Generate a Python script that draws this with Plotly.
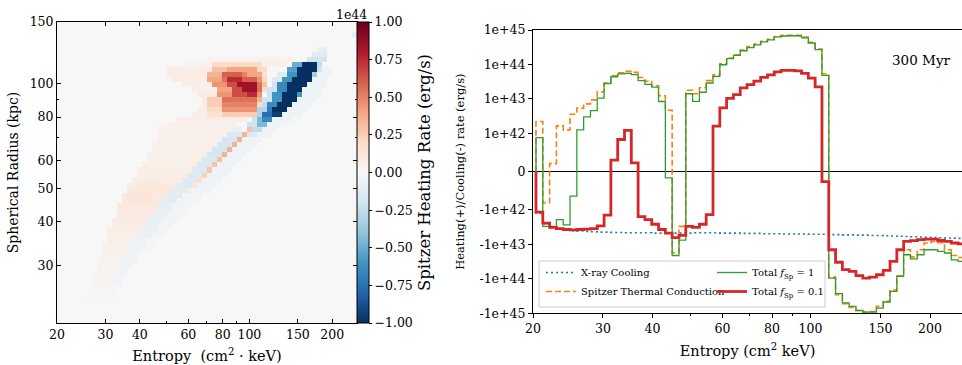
import numpy as np
import plotly.graph_objects as go

# ---------------- Left panel: Spitzer heating-rate map (values in 1e44 erg/s) ----------------
ent_min, ent_max = 20.0, 246.0      # entropy range of the map (cm^2 keV)
rad_min, rad_max = 20.5, 150.0      # radius range of the map (kpc)
n_ent, n_rad = 60, 60
# (row counted from the top, first column, last column, value in units of 1e44 erg/s)
heat_runs = [
    (2, 59, 59, -0.10),
    (5, 52, 53, -0.08),
    (6, 51, 53, -0.12),
    (7, 30, 46, 0.04), (7, 50, 53, -0.20),
    (8, 26, 30, 0.04), (8, 31, 40, 0.20), (8, 41, 45, 0.05), (8, 47, 48, -0.50), (8, 49, 51, -1.0), (8, 52, 52, -0.25),
    (9, 22, 30, 0.07), (9, 31, 33, 0.30), (9, 34, 39, 0.40), (9, 40, 41, 0.20), (9, 46, 47, -0.55), (9, 48, 51, -1.0),
    (9, 52, 52, -0.20), (9, 53, 54, -0.05),
    (10, 22, 29, 0.08), (10, 30, 32, 0.35), (10, 33, 36, 0.60), (10, 37, 37, 0.50), (10, 38, 40, 0.40), (10, 41, 41, 0.15),
    (10, 44, 45, -0.12), (10, 46, 47, -0.60), (10, 48, 50, -1.0), (10, 51, 51, -0.35), (10, 52, 54, -0.05),
    (11, 23, 29, 0.07), (11, 30, 32, 0.40), (11, 33, 33, 0.55), (11, 34, 36, 0.75), (11, 37, 39, 0.60), (11, 40, 40, 0.45),
    (11, 41, 41, 0.20), (11, 43, 44, -0.15), (11, 45, 46, -0.60), (11, 47, 50, -1.0), (11, 51, 53, -0.05),
    (12, 25, 30, 0.06), (12, 31, 33, 0.45), (12, 34, 35, 0.65), (12, 36, 39, 0.85), (12, 40, 40, 0.55), (12, 41, 41, 0.30),
    (12, 43, 43, -0.20), (12, 44, 45, -0.65), (12, 46, 49, -1.0), (12, 50, 53, -0.05),
    (13, 27, 31, 0.06), (13, 32, 34, 0.40), (13, 35, 36, 0.65), (13, 37, 39, 0.85), (13, 40, 40, 0.55), (13, 41, 41, 0.20),
    (13, 42, 43, -0.20), (13, 44, 45, -0.65), (13, 46, 48, -1.0), (13, 49, 52, -0.05),
    (14, 28, 31, 0.08), (14, 32, 34, 0.45), (14, 35, 37, 0.65), (14, 38, 39, 0.75), (14, 40, 40, 0.45),
    (14, 42, 42, -0.20), (14, 43, 44, -0.60), (14, 45, 47, -1.0), (14, 48, 48, -0.60), (14, 49, 52, -0.05),
    (15, 29, 29, 0.08), (15, 30, 32, 0.25), (15, 33, 39, 0.55), (15, 40, 40, 0.35),
    (15, 41, 42, -0.20), (15, 43, 44, -0.60), (15, 45, 47, -1.0), (15, 48, 51, -0.05),
    (16, 29, 29, 0.08), (16, 30, 32, 0.25), (16, 33, 39, 0.50), (16, 40, 40, 0.20),
    (16, 41, 41, -0.25), (16, 42, 43, -0.65), (16, 44, 46, -1.0), (16, 47, 50, -0.05),
    (17, 28, 29, 0.07), (17, 30, 32, 0.20), (17, 33, 39, 0.45),
    (17, 40, 41, -0.30), (17, 42, 42, -0.70), (17, 43, 45, -1.0), (17, 46, 49, -0.05),
    (18, 27, 29, 0.06), (18, 30, 32, 0.15), (18, 33, 39, 0.25),
    (18, 40, 40, -0.30), (18, 41, 42, -0.75), (18, 43, 44, -0.95), (18, 45, 48, -0.05),
    (19, 24, 37, 0.07), (19, 39, 39, -0.20), (19, 40, 40, -0.45), (19, 41, 42, -0.65), (19, 43, 46, -0.05),
    (20, 22, 35, 0.05), (20, 38, 39, -0.20), (20, 40, 41, -0.45), (20, 42, 45, -0.05),
    (21, 20, 34, 0.05), (21, 35, 36, -0.10), (21, 38, 38, 0.30), (21, 39, 40, -0.25), (21, 41, 43, -0.05),
    (22, 20, 33, 0.05), (22, 34, 36, -0.15), (22, 37, 37, 0.35), (22, 38, 39, -0.15), (22, 40, 42, -0.04),
    (23, 20, 32, 0.05), (23, 33, 35, -0.18), (23, 36, 36, 0.35), (23, 37, 40, -0.04),
    (24, 19, 31, 0.05), (24, 32, 34, -0.18), (24, 35, 35, 0.35), (24, 36, 39, -0.04),
    (25, 19, 30, 0.06), (25, 31, 33, -0.18), (25, 34, 34, 0.35), (25, 35, 38, -0.04),
    (26, 18, 29, 0.06), (26, 30, 32, -0.18), (26, 33, 33, 0.35), (26, 34, 37, -0.04),
    (27, 18, 28, 0.06), (27, 29, 31, -0.16), (27, 32, 32, 0.30), (27, 33, 36, -0.04),
    (28, 17, 27, 0.06), (28, 28, 30, -0.16), (28, 31, 31, 0.30), (28, 32, 35, -0.04),
    (29, 16, 26, 0.07), (29, 27, 29, -0.14), (29, 30, 30, 0.28), (29, 31, 34, -0.04),
    (30, 16, 25, 0.07), (30, 26, 28, -0.14), (30, 29, 29, 0.24), (30, 30, 33, -0.04),
    (31, 15, 24, 0.08), (31, 25, 27, -0.13), (31, 28, 28, 0.18), (31, 29, 32, -0.04),
    (32, 14, 15, 0.08), (32, 16, 20, 0.11), (32, 21, 23, 0.09), (32, 24, 26, -0.13), (32, 27, 27, 0.12), (32, 28, 31, -0.04),
    (33, 14, 22, 0.11), (33, 23, 25, -0.11), (33, 26, 26, 0.08), (33, 27, 30, -0.03),
    (34, 13, 13, 0.10), (34, 14, 18, 0.13), (34, 19, 21, 0.10), (34, 22, 24, -0.11), (34, 25, 28, -0.03),
    (35, 13, 13, 0.10), (35, 14, 18, 0.13), (35, 19, 20, 0.10), (35, 21, 23, -0.11), (35, 24, 27, -0.03),
    (36, 12, 19, 0.11), (36, 20, 22, -0.10), (36, 23, 26, -0.03),
    (37, 12, 19, 0.09), (37, 20, 22, -0.09), (37, 23, 25, -0.03),
    (38, 12, 18, 0.09), (38, 19, 21, -0.09), (38, 22, 24, -0.03),
    (39, 11, 17, 0.08), (39, 18, 20, -0.08), (39, 21, 23, -0.03),
    (40, 11, 16, 0.07), (40, 17, 19, -0.08), (40, 20, 22, -0.03),
    (41, 10, 16, 0.07), (41, 17, 19, -0.07), (41, 20, 21, -0.03),
    (42, 10, 15, 0.06), (42, 16, 18, -0.07), (42, 19, 20, -0.03),
    (43, 10, 14, 0.06), (43, 15, 17, -0.06), (43, 18, 19, -0.02),
    (44, 9, 13, 0.05), (44, 14, 17, -0.06), (44, 18, 19, -0.02),
    (45, 9, 13, 0.05), (45, 14, 16, -0.05), (45, 17, 18, -0.02),
    (46, 9, 12, 0.05), (46, 13, 15, -0.05),
    (47, 8, 12, 0.04), (47, 13, 15, -0.04),
    (48, 8, 11, 0.04), (48, 12, 14, -0.04),
    (49, 8, 11, 0.03), (49, 12, 13, -0.04),
    (50, 7, 10, 0.03), (50, 11, 13, -0.03),
    (51, 7, 10, 0.03), (51, 11, 12, -0.03),
    (52, 7, 9, 0.02), (52, 10, 12, -0.02),
    (53, 7, 9, 0.02), (53, 10, 11, -0.02),
    (54, 6, 8, 0.015), (54, 9, 11, -0.015),
    (55, 6, 8, 0.015), (55, 9, 10, -0.015),
]
map_ticks_ent = [20, 30, 40, 60, 80, 100, 150, 200]
map_ticks_rad = [30, 40, 50, 60, 80, 100, 150]
cbar_ticks = [-1.0, -0.75, -0.5, -0.25, 0.0, 0.25, 0.5, 0.75, 1.0]
cbar_ticktext = ["\u22121.00", "\u22120.75", "\u22120.50", "\u22120.25", "0.00", "0.25", "0.50", "0.75", "1.00"]

# ---------------- Right panel: heating/cooling rates per entropy bin (erg/s) ----------------
bin_lo = 20.35          # lower edge of the first entropy bin
bin_dex = 0.01715       # bin width in dex
xray_cooling = [
    -1.24e42, -2.5e42, -3.3e42, -3.6e42, -3.9e42, -4.0e42, -4.1e42, -4.2e42, -4.3e42, -4.4e42,
    -4.4e42, -4.5e42, -4.5e42, -4.6e42, -4.6e42, -4.6e42, -4.6e42, -4.7e42, -4.7e42, -4.7e42,
    -4.7e42, -4.7e42, -4.7e42, -4.6e42, -4.6e42, -4.6e42, -4.6e42, -4.7e42, -4.7e42, -4.7e42,
    -4.8e42, -4.8e42, -4.8e42, -4.9e42, -4.9e42, -4.9e42, -5.0e42, -5.0e42, -5.0e42, -5.0e42,
    -5.1e42, -5.1e42, -5.1e42, -5.2e42, -5.2e42, -5.3e42, -5.3e42, -5.4e42, -5.4e42, -5.5e42,
    -5.5e42, -5.6e42, -5.7e42, -5.8e42, -5.9e42, -6.0e42, -6.1e42, -6.2e42, -6.3e42, -6.4e42,
    -6.5e42, -6.6e42, -6.7e42]
spitzer = [
    2.2e42, -8.1e41, 2.1e41, 1.65e42, 1.26e42, 3.6e42, 5.4e42, 7.2e42, 9.4e42, 1.6e43,
    2.9e43, 4.7e43, 5.7e43, 6.3e43, 5.9e43, 4.2e43, 3.25e43, 2.4e43, 1.23e43, 4.7e42,
    -1.74e43, -3.0e42, 1.78e43, 1.41e43, 2.1e43, 3.4e43, 5.0e43, 1.05e44, 1.53e44, 1.9e44,
    2.6e44, 3.3e44, 3.9e44, 4.7e44, 5.4e44, 6.5e44, 7.0e44, 7.0e44, 7.0e44, 6.2e44,
    4.4e44, 2.8e44, 5.4e43, -8.9e43, -2.9e44, -5.3e44, -6.8e44, -8.3e44, -9.2e44, -8.9e44,
    -6.3e44, -4.5e44, -2.1e44, -8.1e43, -1.43e43, -2.3e43, -1.43e43, -9.1e42, -8.2e42, -8.9e42,
    -1.43e43, -2.1e43, -2.4e43]
total_fsp1 = [
    8.9e41, -3.0e42, -3.0e42, -1.9e42, -2.7e42, -6.4e41, 1.26e42, 3.0e42, 4.6e42, 1.05e43,
    2.8e43, 4.4e43, 5.3e43, 5.5e43, 5.1e43, 3.4e43, 2.65e43, 2.2e43, 8.4e42, -1.6e41,
    -2.1e43, -7.5e42, 1.41e43, 8.5e42, 1.56e43, 2.9e43, 4.5e43, 9.8e43, 1.47e44, 1.83e44,
    2.5e44, 3.1e44, 3.7e44, 4.5e44, 5.2e44, 6.3e44, 6.7e44, 6.8e44, 6.8e44, 5.9e44,
    4.2e44, 2.7e44, 4.8e43, -9.5e43, -2.7e44, -5.0e44, -6.3e44, -8.3e44, -9.2e44, -9.2e44,
    -7.1e44, -4.7e44, -2.3e44, -8.5e43, -2.0e43, -2.65e43, -2.0e43, -1.43e43, -1.43e43, -1.6e43,
    -1.78e43, -2.8e43, -3.1e43]
total_fsp01 = [
    -1.16e42, -2.4e42, -3.2e42, -3.5e42, -3.7e42, -3.8e42, -3.7e42, -3.6e42, -3.5e42, -2.9e42,
    -1.42e42, 3.0e41, 8.4e41, 1.22e42, 2.3e41, -1.57e42, -1.9e42, -2.6e42, -3.7e42, -4.7e42,
    -6.4e42, -5.5e42, -3.0e42, -3.2e42, -2.6e42, -1.37e42, 1.62e42, 5.5e42, 1.03e43, 1.34e43,
    2.1e43, 2.6e43, 3.3e43, 4.2e43, 5.0e43, 6.1e43, 6.7e43, 6.7e43, 6.5e43, 5.5e43,
    4.0e43, 2.25e43, -2.6e41, -1.43e43, -3.3e43, -5.4e43, -6.1e43, -8.1e43, -9.5e43, -8.9e43,
    -7.6e43, -5.7e43, -3.1e43, -1.43e43, -8.2e42, -7.8e42, -7.3e42, -7.0e42, -7.0e42, -7.7e42,
    -8.2e42, -9.1e42, -9.7e42]
rate_ticks = [1e45, 1e44, 1e43, 1e42, 0, -1e42, -1e43, -1e44, -1e45]
rate_ticktext = ["1e+45", "1e+44", "1e+43", "1e+42", "0", "-1e+42", "-1e+43", "-1e+44", "-1e+45"]
ent_ticks = [20, 30, 40, 60, 80, 100, 150, 200]
ent_minor = [50, 70, 90]

# ---------------- helpers ----------------
LINTHRESH = 1e42
LINSCALE = 1.0 / (1.0 - 0.1)   # matplotlib symlog (base 10, linscale 1)


def symlog(v):
    v = np.asarray(v, dtype=float)
    a = np.abs(v)
    return np.where(a <= LINTHRESH, v / LINTHRESH * LINSCALE,
                    np.sign(v) * (LINSCALE + np.log10(np.maximum(a, LINTHRESH) / LINTHRESH)))


W, H = 962, 365
FONT = "DejaVu Serif"

# heat map grid
zgrid = np.zeros((n_rad, n_ent))
for r, c0, c1, val in heat_runs:
    zgrid[n_rad - 1 - r, c0:c1 + 1] = val * 1e44
x_edges = ent_min * 10 ** (np.arange(n_ent + 1) * np.log10(ent_max / ent_min) / n_ent)
y_edges = rad_min * 10 ** (np.arange(n_rad + 1) * np.log10(rad_max / rad_min) / n_rad)

rdbu_r = ['rgb(5,48,97)', 'rgb(33,102,172)', 'rgb(67,147,195)', 'rgb(146,197,222)', 'rgb(209,229,240)',
          'rgb(247,247,247)', 'rgb(253,219,199)', 'rgb(244,165,130)', 'rgb(214,96,77)', 'rgb(178,24,43)',
          'rgb(103,0,31)']
colorscale = [[i / 10, col] for i, col in enumerate(rdbu_r)]

fig = go.Figure()

# panel frames (pixels)
Lx0, Lx1, Ly0, Ly1 = 57, 357, 22, 323
Rx0, Rx1, Ry0, Ry1 = 533, 962, 30, 313.3

fig.add_trace(go.Heatmap(
    x=x_edges, y=y_edges, z=zgrid, zmin=-1e44, zmax=1e44, colorscale=colorscale,
    xaxis="x", yaxis="y", zsmooth=False, showlegend=False,
    colorbar=dict(
        x=Lx1 / W, xanchor="left", xpad=0, ypad=0,
        y=1 - Ly0 / H, yanchor="top", len=(Ly1 - Ly0) / H, lenmode="fraction",
        thickness=12, outlinewidth=1, outlinecolor="black",
        tickvals=[t * 1e44 for t in cbar_ticks], ticktext=cbar_ticktext,
        ticks="outside", ticklen=3, tickcolor="black",
        tickfont=dict(family=FONT, size=12.5, color="black"),
        title=dict(text="Spitzer Heating Rate (erg/s)", side="right",
                   font=dict(family=FONT, size=16.5, color="black")),
    ),
))

# right panel step lines
edges = bin_lo * 10 ** (np.arange(len(spitzer) + 1) * bin_dex)


def step_xy(vals):
    xs = np.concatenate([[edges[0]], edges[:-1], [edges[-1]]])
    ys = np.concatenate([[0.0], np.asarray(vals, float), [vals[-1]]])
    return xs, symlog(ys)


series = [
    ("X-ray Cooling", xray_cooling, dict(color="#1f77b4", width=1.6, dash="2px,3px"), "legend"),
    ("Spitzer Thermal Conduction", spitzer, dict(color="#ff7f0e", width=1.6, dash="6px,3px"), "legend"),
    ("Total <i>f</i><sub>Sp</sub> = 1", total_fsp1, dict(color="#2ca02c", width=1.3), "legend2"),
    ("Total <i>f</i><sub>Sp</sub> = 0.1", total_fsp01, dict(color="#d62728", width=2.8), "legend2"),
]
for name, vals, line, leg in series:
    xs, ys = step_xy(vals)
    fig.add_trace(go.Scatter(x=xs, y=ys, mode="lines", line=dict(shape="hv", **line),
                             name=name, legend=leg, xaxis="x2", yaxis="y2"))

axis_font = dict(family=FONT, size=12.5, color="black")
legend_common = dict(
    xanchor="left", yanchor="top", orientation="v", itemwidth=30,
    bgcolor="rgba(0,0,0,0)", borderwidth=0, tracegroupgap=0,
    font=dict(family=FONT, size=10, color="black"),
)
fig.update_layout(
    width=W, height=H, margin=dict(l=0, r=0, t=0, b=0, pad=0, autoexpand=False),
    paper_bgcolor="white", plot_bgcolor="white",
    font=dict(family=FONT, color="black"),
    xaxis=dict(
        domain=[Lx0 / W, Lx1 / W], anchor="y", type="log",
        range=[np.log10(ent_min), np.log10(ent_max)],
        tickvals=map_ticks_ent, ticktext=[str(t) for t in map_ticks_ent],
        ticks="inside", ticklen=4, tickcolor="black", mirror="ticks",
        showline=True, linecolor="black", linewidth=1, showgrid=False, zeroline=False,
        minor=dict(tickvals=ent_minor, ticks="inside", ticklen=2, tickcolor="black"),
        tickfont=axis_font, automargin=False,
        title=dict(text="Entropy  (cm<sup>2</sup> \u00b7 keV)", font=dict(family=FONT, size=14.5), standoff=9),
    ),
    yaxis=dict(
        domain=[1 - Ly1 / H, 1 - Ly0 / H], anchor="x", type="log",
        range=[np.log10(rad_min), np.log10(rad_max)],
        tickvals=map_ticks_rad, ticktext=[str(t) for t in map_ticks_rad],
        ticks="inside", ticklen=4, tickcolor="black", mirror="ticks",
        showline=True, linecolor="black", linewidth=1, showgrid=False, zeroline=False,
        minor=dict(tickvals=[70, 90], ticks="inside", ticklen=2, tickcolor="black"),
        tickfont=axis_font, automargin=False,
        title=dict(text="Spherical Radius (kpc)", font=dict(family=FONT, size=14), standoff=7),
    ),
    xaxis2=dict(
        domain=[Rx0 / W, Rx1 / W], anchor="y2", type="log",
        range=[np.log10(20), np.log10(20) + (Rx1 - Rx0) / 397.0],
        tickvals=ent_ticks, ticktext=[str(t) for t in ent_ticks],
        ticks="outside", ticklen=4, tickcolor="black", mirror=True,
        showline=True, linecolor="black", linewidth=1.2, showgrid=False, zeroline=False,
        minor=dict(tickvals=ent_minor, ticks="outside", ticklen=2, tickcolor="black"),
        tickfont=axis_font, automargin=False,
        title=dict(text="Entropy (cm<sup>2</sup> keV)", font=dict(family=FONT, size=14.5), standoff=10),
    ),
    yaxis2=dict(
        domain=[1 - Ry1 / H, 1 - Ry0 / H], anchor="x2",
        range=[float(symlog(-1e45)), float(symlog(1e45))],
        tickvals=symlog(rate_ticks).tolist(), ticktext=rate_ticktext,
        ticks="outside", ticklen=4, tickcolor="black",
        showline=True, linecolor="black", linewidth=1.2, showgrid=False,
        zeroline=True, zerolinecolor="black", zerolinewidth=1.2,
        tickfont=axis_font, automargin=False,
        title=dict(text="Heating(+)/Cooling(-) rate (erg/s)", font=dict(family=FONT, size=11.5), standoff=12),
    ),
    legend=dict(x=541 / W, y=1 - 258 / H, **legend_common),
    legend2=dict(x=712 / W, y=1 - 258 / H, **legend_common),
    shapes=[dict(type="rect", xref="paper", yref="paper",
                 x0=539 / W, x1=825 / W, y0=1 - 307 / H, y1=1 - 261 / H,
                 fillcolor="white", line=dict(color="#cccccc", width=1), layer="above")],
    annotations=[
        dict(text="1e44", x=369 / W, y=1 - 15 / H, xref="paper", yref="paper",
             xanchor="right", yanchor="middle", showarrow=False,
             font=dict(family=FONT, size=12.5, color="black")),
        dict(text="300 Myr", x=953 / W, y=1 - 60 / H, xref="paper", yref="paper",
             xanchor="right", yanchor="middle", showarrow=False,
             font=dict(family=FONT, size=13.5, color="black")),
    ],
)

fig.write_html("out.html", config={"displayModeBar": False},
               post_script="document.body.style.margin='0';document.body.style.overflow='hidden';")
